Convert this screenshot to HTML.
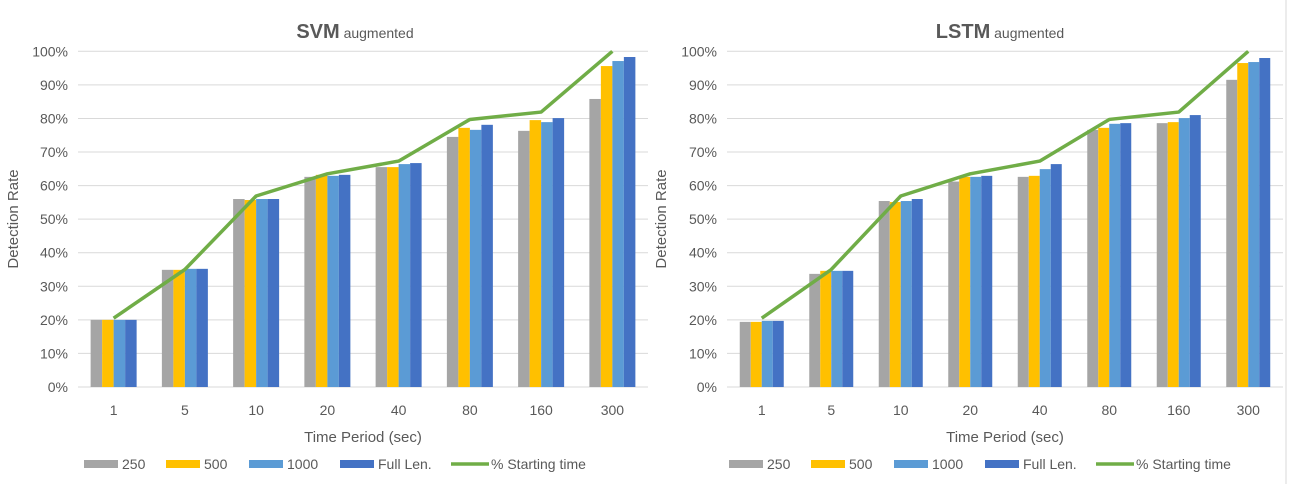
<!DOCTYPE html>
<html><head><meta charset="utf-8"><style>
html,body{margin:0;padding:0;background:#fff;width:1291px;height:484px;overflow:hidden}
svg text{font-family:"Liberation Sans",sans-serif;fill:#595959}
</style></head><body>
<svg id="root" width="1291" height="484" xmlns="http://www.w3.org/2000/svg"></svg>
<script>
const categories = ["1","5","10","20","40","80","160","300"];
const seriesNames = ["250","500","1000","Full Len."];
const seriesColors = ["#a5a5a5","#ffc000","#5b9bd5","#4472c4"];
const svm250 = [20,34.9,56.0,62.6,65.5,74.5,76.3,85.8];
const svm500 = [20,34.9,55.7,63.2,65.5,77.2,79.5,95.6];
const svm1000 = [20,35.2,56.0,62.9,66.4,76.6,78.9,97.1];
const svmFull = [20,35.2,56.0,63.2,66.7,78.1,80.1,98.3];
const lstm250 = [19.4,33.7,55.4,61.2,62.6,76.6,78.6,91.5];
const lstm500 = [19.4,34.6,55.1,62.6,62.9,77.2,78.9,96.5];
const lstm1000 = [19.7,34.6,55.4,62.6,64.9,78.4,80.1,96.8];
const lstmFull = [19.7,34.6,56.0,62.9,66.4,78.6,81.0,98.0];
const startTime = [20.5,35,56.9,63.5,67.3,79.7,81.9,100];
const yTicks = [0,10,20,30,40,50,60,70,80,90,100];

const NS="http://www.w3.org/2000/svg";
const root=document.getElementById('root');
function mk(tag,attrs,parent){const e=document.createElementNS(NS,tag);for(const k in attrs)e.setAttribute(k,attrs[k]);(parent||root).appendChild(e);return e;}

function drawChart(cfg){
  const g=mk('g',{});
  
  
  const x0=cfg.x0,x1=cfg.x1,yTop=51.3,yBot=387;
  const cw=(x1-x0)/categories.length;
  const ys=v=>yBot-(v/100)*(yBot-yTop);
  const xc=i=>x0+cw*(i+0.5);
  yTicks.forEach(t=>{
    const l=mk('line',{x1:x0,x2:x1,y1:ys(t),y2:ys(t),stroke:'#d9d9d9','stroke-width':1},g);
    
    
    const tx=mk('text',{x:x0-10,y:ys(t)+5,'text-anchor':'end','font-size':14},g);
    
    
    tx.textContent=t+'%';
  });
  const bw=cfg.groupW/4;
  cfg.series.forEach((arr,s)=>{
    arr.forEach((v,i)=>{
      const r=mk('rect',{x:xc(i)-cfg.groupW/2+s*bw,y:ys(v),width:bw,height:yBot-ys(v),fill:seriesColors[s]},g);
      
      
    });
  });
  const cid=cfg.name+'-clip';
  const cp=mk('clipPath',{id:cid},g);
  mk('rect',{x:x0,y:yTop-1,width:x1-x0,height:yBot-yTop+2},cp);
  const pts=startTime.map((v,i)=>xc(i)+','+ys(v)).join(' ');
  const pl=mk('polyline',{points:pts,fill:'none',stroke:'#70ad47','stroke-width':3.5,'stroke-linejoin':'round','clip-path':'url(#'+cid+')'},g);
  
  
  categories.forEach((c,i)=>{
    const t=mk('text',{x:xc(i),y:415,'text-anchor':'middle','font-size':14},g);
    
    
    t.textContent=c;
  });
  const tt=mk('text',{x:cfg.titleX,y:38,'text-anchor':'middle'},g);
  
  
  const b=mk('tspan',{'font-size':20,'font-weight':'bold'},tt);b.textContent=cfg.title;
  const sm=mk('tspan',{'font-size':14},tt);sm.textContent=' augmented';
  const xt=mk('text',{x:(x0+x1)/2,y:442,'text-anchor':'middle','font-size':15},g);
  
  
  xt.textContent='Time Period (sec)';
  const yt=mk('text',{x:0,y:0,'text-anchor':'middle','font-size':15,transform:'translate('+(cfg.ytX)+',219) rotate(-90)'},g);
  
  
  yt.textContent='Detection Rate';
  const lx=cfg.legX;
  const offs=[0,82,165,256];
  seriesNames.forEach((n,s)=>{
    const r=mk('rect',{x:lx+offs[s],y:460,width:34,height:8,fill:seriesColors[s]},g);
    
    
    const t=mk('text',{x:lx+offs[s]+38,y:469,'font-size':14},g);
    
    
    t.textContent=n;
  });
  const ll=mk('line',{x1:lx+367,x2:lx+405,y1:464,y2:464,stroke:'#70ad47','stroke-width':3.5},g);
  
  
  const lt=mk('text',{x:lx+407,y:469,'font-size':14},g);
  
  
  lt.textContent='% Starting time';
}
drawChart({name:'svm-chart',x0:78,x1:648,groupW:46,series:[svm250,svm500,svm1000,svmFull],title:'SVM',titleX:355,ytX:18,legX:84});
drawChart({name:'lstm-chart',x0:727,x1:1283,groupW:44,series:[lstm250,lstm500,lstm1000,lstmFull],title:'LSTM',titleX:1000,ytX:666,legX:729});
const bd=mk('line',{x1:1286,x2:1286,y1:0,y2:484,stroke:'#d9d9d9','stroke-width':1});


</script>
</body></html>
